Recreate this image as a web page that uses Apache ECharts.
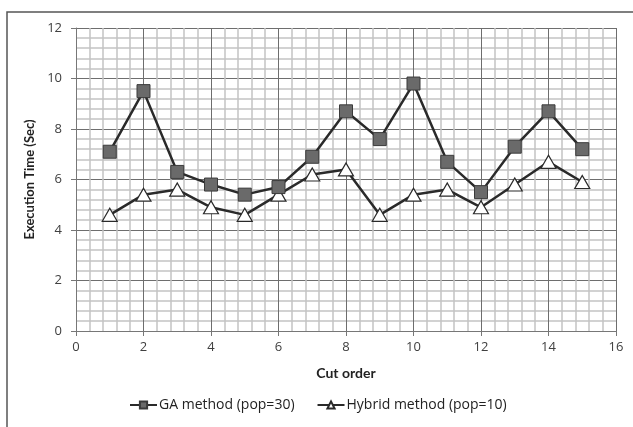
<!DOCTYPE html>
<html><head><meta charset="utf-8">
<script src="https://cdn.jsdelivr.net/npm/echarts@6/dist/echarts.min.js"></script>
<style>html,body{margin:0;padding:0;background:#fff}#c{width:633px;height:427px}</style>
</head><body><div id="c"></div>
<script>
const cutOrder = [1,2,3,4,5,6,7,8,9,10,11,12,13,14,15];
const gaValues = [7.1,9.5,6.3,5.8,5.4,5.7,6.9,8.7,7.6,9.8,6.7,5.5,7.3,8.7,7.2];
const hybridValues = [4.6,5.4,5.6,4.9,4.6,5.4,6.2,6.4,4.6,5.4,5.6,4.9,5.8,6.7,5.9];
const seriesNames = ['GA method (pop=30)','Hybrid method (pop=10)'];
const xTitle = 'Cut order';
const yTitle = 'Execution Time (Sec)';

const font = '"Open Sans", Lato, sans-serif';
const bold = 'Lato, "Open Sans", sans-serif';
const chart = echarts.init(document.getElementById('c'), null, {renderer:'canvas'});
const pair = (xs, ys) => xs.map((x,i)=>[x, ys[i]]);
chart.setOption({
  animation:false,
  backgroundColor:'#fff',
  graphic:[{type:'rect', shape:{x:7,y:12,width:640,height:430}, style:{fill:'none', stroke:'#555', lineWidth:1.5}, silent:true}],
  grid:{left:76, right:17, top:28, bottom:96},
  legend:{
    top:393, left:124, itemGap:22, itemWidth:27, itemHeight:9,
    textStyle:{fontFamily:font, fontSize:14, color:'#222', padding:[0,0,0,-3]},
    data:seriesNames
  },
  xAxis:{
    type:'value', min:0, max:16, interval:2,
    name:xTitle, nameLocation:'middle', nameGap:35,
    nameTextStyle:{fontFamily:bold, fontSize:14, fontWeight:'bold', color:'#222'},
    axisLine:{show:true, lineStyle:{color:'#777', width:1}},
    axisTick:{show:true, length:5, lineStyle:{color:'#777'}},
    axisLabel:{fontFamily:font, fontSize:13, color:'#404040', margin:10},
    splitLine:{show:true, lineStyle:{color:'#6e6e6e', width:1}},
    minorTick:{show:false, splitNumber:5},
    minorSplitLine:{show:true, lineStyle:{color:'#c4c4c4', width:1.5}}
  },
  yAxis:{
    type:'value', min:0, max:12, interval:2,
    name:yTitle, nameLocation:'middle', nameGap:35, nameRotate:90,
    nameTextStyle:{fontFamily:bold, fontSize:13, fontWeight:'bold', color:'#222'},
    axisLine:{show:true, lineStyle:{color:'#777', width:1}},
    axisTick:{show:true, length:5, lineStyle:{color:'#777'}},
    axisLabel:{fontFamily:font, fontSize:13, color:'#404040', margin:14},
    splitLine:{show:true, lineStyle:{color:'#6e6e6e', width:1}},
    minorTick:{show:false, splitNumber:5},
    minorSplitLine:{show:true, lineStyle:{color:'#c4c4c4', width:1.5}}
  },
  series:[
    {name:seriesNames[0], type:'line', data:pair(cutOrder, gaValues),
     symbol:'rect', symbolSize:13,
     lineStyle:{color:'#2a2a2a', width:2.5},
     itemStyle:{color:'#6a6a6a', borderColor:'#3a3a3a', borderWidth:1},
     z:3},
    {name:seriesNames[1], type:'line', data:pair(cutOrder, hybridValues),
     symbol:'triangle', symbolSize:[15,13],
     lineStyle:{color:'#2a2a2a', width:2.5},
     itemStyle:{color:'#ffffff', borderColor:'#2a2a2a', borderWidth:1.2},
     z:2}
  ]
});
</script></body></html>
